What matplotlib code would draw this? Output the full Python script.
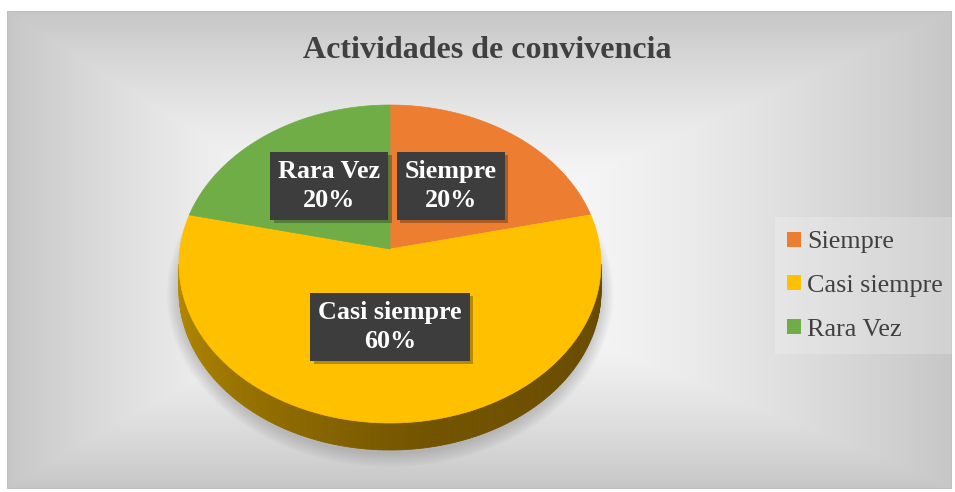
import numpy as np
import matplotlib
matplotlib.use("Agg")
import matplotlib.pyplot as plt
import matplotlib.patheffects as pe
from matplotlib.patches import Polygon, Ellipse, Patch, Rectangle

# data
categories = ["Siempre", "Casi siempre", "Rara Vez"]
values = [20, 60, 20]
colors = ["#ED7D31", "#FFC000", "#70AD47"]
title = "Actividades de convivencia"

plt.rcParams['font.family'] = ['Liberation Serif', 'DejaVu Serif']

W, H = 955, 492
fig = plt.figure(figsize=(W / 100, H / 100), dpi=100)
ax = fig.add_axes([0, 0, 1, 1])
ax.set_xlim(0, W)
ax.set_ylim(H, 0)
ax.axis('off')

# background: white margin + path gradient centred near the pie
x0, y0, x1, y1 = 7, 11, 951, 488
gx, gy = np.meshgrid(np.linspace(x0, x1, 400), np.linspace(y0, y1, 220))
gcx, gcy = 400, 262
dxn = np.where(gx < gcx, (gcx - gx) / (gcx - x0), (gx - gcx) / (x1 - gcx))
dyn = np.where(gy < gcy, (gcy - gy) / (gcy - y0), (gy - gcy) / (y1 - gcy))
d = np.maximum(dxn, dyn)
v = 1 - 0.22 * d ** 1.6
ax.imshow(np.dstack([v, v, v]), extent=(x0, x1, y1, y0), aspect='auto',
          interpolation='bilinear', zorder=0)
ax.add_patch(Rectangle((x0, y0), x1 - x0, y1 - y0, fill=False,
                       ec='#bfbfbf', lw=0.8, zorder=1))

# pie geometry (pixel space)
cx, ecy = 390, 264
rx, ry = 211, 159
apex_y = 249
depth = 27


def pt(t):
    r = np.radians(t)
    return cx + rx * np.cos(r), ecy - ry * np.sin(r)


# soft shadow under the pie
for i in range(8):
    ax.add_patch(Ellipse((cx, ecy + depth + 3), 2 * (rx + 1 + i * 1.6),
                         2 * (ry + 1 + i * 1.8), fc='#000000', ec='none',
                         alpha=0.02, zorder=2))

# side of the pie (front half), darker toward the right
ts = np.linspace(180, 360, 181)
c_left = np.array([0.72, 0.55, 0.0])
c_mid = np.array([0.45, 0.33, 0.0])
c_right = np.array([0.40, 0.29, 0.0])
for a, b in zip(ts[:-1], ts[1:]):
    xa, ya = pt(a)
    xb, yb = pt(b)
    f = (a - 180) / 180
    if f < 0.55:
        col = c_left + (c_mid - c_left) * (f / 0.55)
    else:
        col = c_mid + (c_right - c_mid) * ((f - 0.55) / 0.45)
    ax.add_patch(Polygon([(xa, ya), (xb, yb), (xb, yb + depth), (xa, ya + depth)],
                         closed=True, fc=col, ec=col, lw=0.6, zorder=3))

# top face wedges, clockwise from 90 degrees
total = sum(values)
start = 90.0
mids = []
handles = []
for cat, val, col in zip(categories, values, colors):
    span = 360.0 * val / total
    angs = np.linspace(start, start - span, 120)
    verts = [(cx, apex_y)] + [pt(a) for a in angs]
    ax.add_patch(Polygon(verts, closed=True, fc=col, ec=col, lw=0.5, zorder=4))
    mids.append(start - span / 2)
    handles.append(Patch(fc=col, ec='none', label=cat))
    start -= span

# data labels
for cat, val, mid in zip(categories, values, mids):
    r = np.radians(mid)
    lx = cx + 0.49 * rx * np.cos(r)
    ly = apex_y - 0.49 * ry * np.sin(r)
    t = ax.text(lx, ly, f"{cat}\n{round(100 * val / total)}%", ha='center', va='center',
                fontsize=18.8, fontweight='bold', color='white', linespacing=1.35,
                bbox=dict(boxstyle='square,pad=0.3', fc='#3d3d3d', ec='none'),
                zorder=6)
    t.get_bbox_patch().set_path_effects(
        [pe.SimplePatchShadow(offset=(2.5, -2.5), alpha=0.3), pe.Normal()])

# title
ax.text(487, 50, title, ha='center', va='center', fontsize=23,
        fontweight='bold', color='#404040', zorder=6)

# legend
ax.add_patch(Rectangle((775, 217), 177, 137, fc='white', ec='none', alpha=0.2, zorder=1))
leg = ax.legend(handles=handles, loc='center left', bbox_to_anchor=(777 / W, 1 - 286 / H),
                fontsize=18.8, frameon=False, handlelength=0.5, handleheight=0.5,
                handletextpad=0.25, labelspacing=0.83, borderaxespad=0)
for t in leg.get_texts():
    t.set_color('#404040')

fig.savefig("out.png", dpi=100)
